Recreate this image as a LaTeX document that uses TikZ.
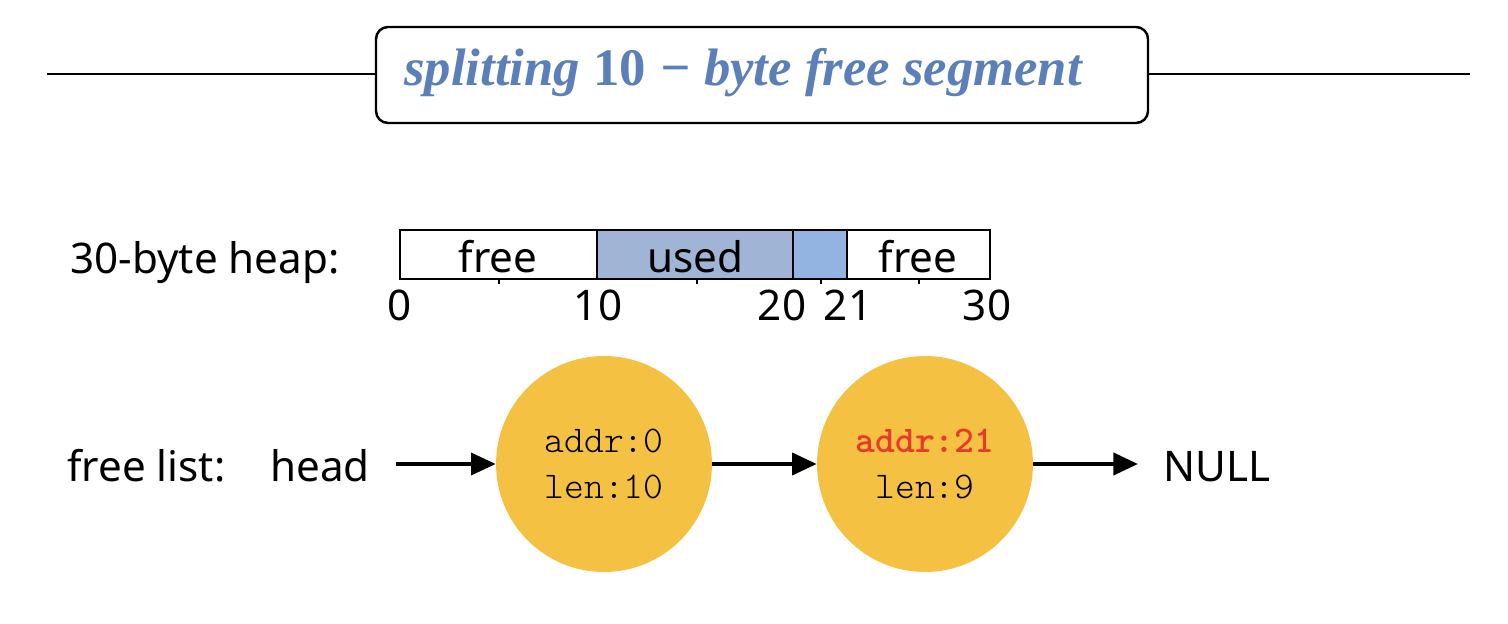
\documentclass[tikz,border=0pt]{standalone}
\usepackage{fontspec}
\setmainfont{Noto Sans}
\setmonofont{lmmonolt10-regular.otf}[BoldFont=lmmonolt10-bold.otf]
\newfontfamily\titlefont{Liberation Serif}
\usetikzlibrary{arrows.meta}
\usetikzlibrary{positioning}
\definecolor{titleblue}{HTML}{5B7FB9}
\definecolor{usedblue}{HTML}{A0B4D6}
\definecolor{splitblue}{HTML}{93B4E0}
\definecolor{nodeyellow}{HTML}{F4C143}
\definecolor{addrred}{HTML}{E8392A}
\tikzset{lbl/.style = {font=\fontsize{24}{29}\selectfont, inner sep=0}}
\tikzset{num/.style = {font=\fontsize{24}{28}\selectfont, inner sep=0, anchor=base}}
\tikzset{lnode/.style = {circle, fill=nodeyellow, minimum size=4.32cm, inner sep=0,
                         align=center, font=\ttfamily\fontsize{21.5}{26.5}\selectfont}}
\tikzset{link/.style = {line width=2.2pt, -{Triangle[length=14pt,width=12.5pt]}}}

\begin{document}
\begin{tikzpicture}[x=0.02cm, y=-0.02cm]
    \useasboundingbox (0, 0) rectangle (1508, 624);

    % title
    \draw [line width=1.3pt] (47, 74) -- (1470, 74);
    \draw [line width=1.4pt, rounded corners=0.24cm, fill=white] (376, 27) rectangle (1148, 123);
    \node (title) [inner sep=0, anchor=base, text=titleblue, font=\titlefont\bfseries\fontsize{30}{35}\selectfont]
        at (743, 86) {\itshape splitting \upshape 10 \itshape − byte free segment};

    % heap
    \node (heaplbl) [lbl, anchor=base west] at (70, 274) {30-byte heap:};
    \fill [usedblue] (597, 230) rectangle (793, 279);
    \fill [splitblue] (793, 230) rectangle (847, 279);
    \draw [line width=1.1pt] (400, 230) rectangle (990, 279);
    \foreach \x in {597, 793, 847}
        \draw [line width=1.1pt] (\x, 230) -- (\x, 279);
    \foreach \x in {499, 697, 821, 919}
        \draw [line width=0.6pt] (\x, 279) -- (\x, 284);
    \node (free1) [lbl, anchor=base] at (498, 273) {free};
    \node (used) [lbl, anchor=base] at (695, 273) {used};
    \node (free2) [lbl, anchor=base] at (918, 273) {free};
    \foreach \x/\v in {400/0, 598/10, 782/20, 848/21, 987/30}
        \node (n\v) [num] at (\x, 321) {\v};

    % free list
    \node (listlbl) [lbl, anchor=base west] at (67, 482) {free list:};
    \node (head) [lbl, anchor=base west] at (270, 482) {head};
    \node (seg1) [lnode] at (604, 464) {addr:0\\len:10};
    \node (seg2) [lnode] at (925, 464) {\textcolor{addrred}{\bfseries addr:21}\\len:9};
    \node (null) [lbl, anchor=base west] at (1163, 482) {NULL};

    \draw [link, shorten <=0.52cm] (head.east |- seg1) -- (seg1);
    \draw [link] (seg1) -- (seg2);
    \draw [link, shorten >=0.5cm] (seg2) -- (null.west |- seg2);
\end{tikzpicture}
\end{document}
